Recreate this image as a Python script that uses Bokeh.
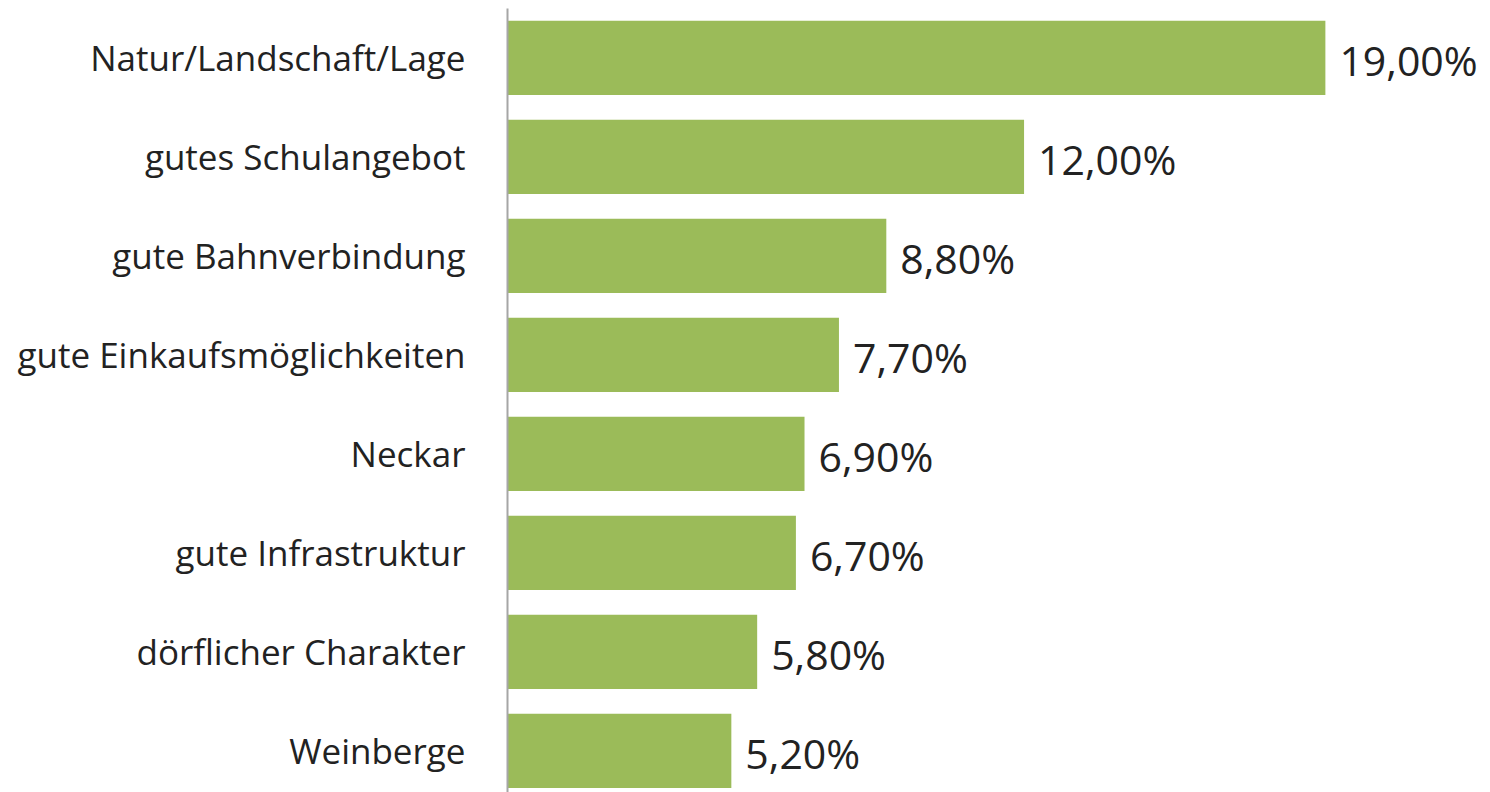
from bokeh.plotting import figure
from bokeh.models import Range1d, FixedTicker, ColumnDataSource
from bokeh.core.properties import value
from bokeh.embed import file_html
from bokeh.resources import INLINE

categories = ["Natur/Landschaft/Lage", "gutes Schulangebot", "gute Bahnverbindung",
              "gute Einkaufsmöglichkeiten", "Neckar", "gute Infrastruktur",
              "dörflicher Charakter", "Weinberge"]
values = [19.0, 12.0, 8.8, 7.7, 6.9, 6.7, 5.8, 5.2]
labels = ["19,00%", "12,00%", "8,80%", "7,70%", "6,90%", "6,70%", "5,80%", "5,20%"]

ys = list(range(len(categories)))
src = ColumnDataSource(dict(y=ys, v=values, lab=labels))

p = figure(width=1482, height=792, output_backend="svg", toolbar_location=None,
           x_range=Range1d(0, 22.65), y_range=Range1d(7.42, -0.5),
           min_border_left=507, min_border_right=0, min_border_top=8, min_border_bottom=0)
p.outline_line_color = None
p.xaxis.visible = False
p.xgrid.visible = False
p.ygrid.visible = False

p.hbar(y="y", right="v", left=0, height=0.75, source=src,
       fill_color="#9BBB59", line_color=None)
p.text(x="v", y="y", text="lab", source=src, x_offset=14, y_offset=2,
       text_font=value("Open Sans"), text_font_size="41px", text_color="#222222",
       text_align="left", text_baseline="middle")

ax = p.yaxis[0]
ax.ticker = FixedTicker(ticks=ys)
ax.major_label_overrides = {i: c for i, c in enumerate(categories)}
ax.major_tick_line_color = None
ax.minor_tick_line_color = None
ax.axis_line_color = "#A6A6A6"
ax.axis_line_width = 2
ax.major_label_standoff = 36
ax.major_label_text_font = "Open Sans"
ax.major_label_text_font_size = "35px"
ax.major_label_text_color = "#222222"

open("out.html", "w").write(file_html(p, INLINE))
